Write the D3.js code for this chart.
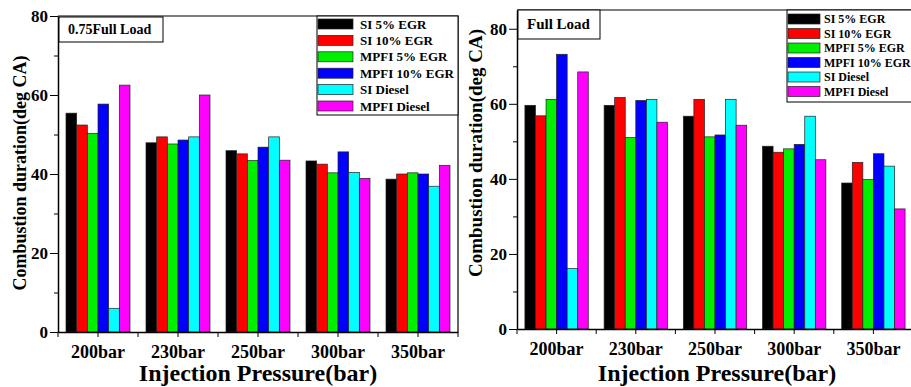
<!DOCTYPE html>
<html>
<head>
<meta charset="utf-8">
<script src="https://cdn.jsdelivr.net/npm/d3@7"></script>
<style>
  body { margin: 0; background: #fff; }
</style>
</head>
<body>
<svg id="chart" width="911" height="387"></svg>
<script>
// categories and series
const pressures = ['200bar', '230bar', '250bar', '300bar', '350bar'];
const seriesNames = ['SI 5% EGR', 'SI 10% EGR', 'MPFI 5% EGR', 'MPFI 10% EGR', 'SI Diesel', 'MPFI Diesel'];
const seriesColors = ['#000000', '#ff0000', '#00ee00', '#0000ff', '#00ffff', '#ff00ff'];

// 0.75 full load
const si5Part = [55.4, 47.9, 45.9, 43.3, 38.7];
const si10Part = [52.4, 49.4, 45.1, 42.5, 40.0];
const mpfi5Part = [50.3, 47.6, 43.4, 40.3, 40.3];
const mpfi10Part = [57.7, 48.6, 46.8, 45.6, 40.0];
const siDieselPart = [6.0, 49.4, 49.4, 40.4, 36.9];
const mpfiDieselPart = [62.5, 60.0, 43.5, 38.9, 42.2];

// full load
const si5Full = [59.6, 59.6, 56.7, 48.7, 38.9];
const si10Full = [56.8, 61.7, 61.2, 47.1, 44.4];
const mpfi5Full = [61.2, 51.0, 51.2, 48.0, 39.8];
const mpfi10Full = [73.2, 60.9, 51.7, 49.2, 46.7];
const siDieselFull = [16.1, 61.2, 61.2, 56.7, 43.4];
const mpfiDieselFull = [68.5, 55.1, 54.3, 45.1, 32.0];

const yTicks = [0, 20, 40, 60, 80];
const yMinor = [10, 30, 50, 70];

const serif = '"Liberation Serif", "Times New Roman", serif';
let svg = d3.select('#chart');

const styleText = function(sel, size) {
    sel.style('font-family', serif)
        .style('font-weight', 'bold')
        .style('font-size', size + 'px')
        .attr('fill', '#000');
};

const drawChart = function(cfg) {
    let series = cfg.series;
    let g = svg.append('g');

    let x = d3.scaleBand().domain(pressures).range([cfg.left, cfg.right]).paddingInner(0.2).paddingOuter(0.1);
    let xs = d3.scaleBand().domain(seriesNames).range([0, x.bandwidth()]);
    let y = d3.scaleLinear().domain([0, cfg.yMax]).range([cfg.bottom, cfg.top]);

    // bars
    seriesNames.forEach(function(name, si) {
        g.selectAll('.bar' + si)
            .data(series[si])
            .enter()
            .append('rect')
            .attr('x', function(d, i) {return x(pressures[i]) + xs(name)})
            .attr('y', function(d) {return y(d)})
            .attr('width', xs.bandwidth())
            .attr('height', function(d) {return y(0) - y(d)})
            .attr('fill', seriesColors[si])
            .attr('stroke', '#222')
            .attr('stroke-width', 0.7);
    });

    // frame
    g.append('path')
        .attr('d', 'M' + cfg.left + ',' + y(cfg.yMax) + 'H' + cfg.right + 'V' + cfg.bottom)
        .attr('fill', 'none').attr('stroke', '#000').attr('stroke-width', 1.2);

    // y axis
    let yAxis = g.append('g')
        .attr('transform', 'translate(' + cfg.left + ',0)')
        .call(d3.axisLeft(y).tickValues(yTicks).tickSize(8).tickPadding(2).tickSizeOuter(0));
    styleText(yAxis.selectAll('text'), cfg.tickFont);
    g.append('g')
        .attr('transform', 'translate(' + cfg.left + ',0)')
        .call(d3.axisLeft(y).tickValues(yMinor).tickSize(4).tickFormat('').tickSizeOuter(0))
        .select('.domain').remove();

    // x axis
    let xAxis = g.append('g')
        .attr('transform', 'translate(0,' + cfg.bottom + ')')
        .call(d3.axisBottom(x).tickSize(5).tickPadding(8).tickSizeOuter(0));
    styleText(xAxis.selectAll('text'), 18);
    let bounds = d3.range(pressures.length + 1).map(function(i) {return cfg.left + i * x.step()});
    g.selectAll('.xminor')
        .data(bounds)
        .enter()
        .append('line')
        .attr('x1', function(d) {return d}).attr('x2', function(d) {return d})
        .attr('y1', cfg.bottom).attr('y2', cfg.bottom + 5)
        .attr('stroke', '#000');
    g.selectAll('.domain').attr('stroke-width', 1.5);

    // axis titles
    g.append('text')
        .attr('x', cfg.left + 200)
        .attr('y', 381)
        .attr('text-anchor', 'middle')
        .text('Injection Pressure(bar)')
        .call(styleText, 24);
    g.append('text')
        .attr('transform', 'translate(' + cfg.yLabelX + ',' + cfg.yLabelY + ') rotate(-90)')
        .attr('text-anchor', 'middle')
        .text('Combustion duration(deg CA)')
        .call(styleText, cfg.yLabelFont);

    // title box
    let tb = cfg.titleBox;
    g.append('rect')
        .attr('x', tb[0]).attr('y', tb[1]).attr('width', tb[2]).attr('height', tb[3])
        .attr('fill', '#fff').attr('stroke', '#000').attr('stroke-width', 1);
    g.append('text')
        .attr('x', tb[0] + 9).attr('y', tb[1] + tb[3] / 2 + cfg.titleFont * 0.33)
        .text(cfg.title)
        .call(styleText, cfg.titleFont);

    // legend
    let lg = cfg.legend;
    g.append('rect')
        .attr('x', lg.x).attr('y', lg.y).attr('width', lg.w).attr('height', lg.h)
        .attr('fill', '#fff').attr('stroke', '#000').attr('stroke-width', 1);
    let rows = g.selectAll('.leg')
        .data(seriesNames)
        .enter()
        .append('g')
        .attr('transform', function(d, i) {return 'translate(0,' + (lg.first + i * lg.step) + ')'});
    rows.append('rect')
        .attr('x', lg.x + 1).attr('y', -lg.sh / 2)
        .attr('width', lg.sw).attr('height', lg.sh)
        .attr('fill', function(d, i) {return seriesColors[i]})
        .attr('stroke', '#222').attr('stroke-width', 0.7);
    rows.append('text')
        .attr('x', lg.tx).attr('y', lg.font * 0.35)
        .text(function(d) {return d})
        .call(styleText, lg.font);
};

drawChart({
    series: [si5Part, si10Part, mpfi5Part, mpfi10Part, siDieselPart, mpfiDieselPart],
    left: 58, right: 458, top: 16, bottom: 332, yMax: 80,
    tickFont: 17, yLabelX: 26, yLabelY: 173, yLabelFont: 18,
    title: '0.75Full Load', titleFont: 14, titleBox: [59, 17, 104, 25],
    legend: {x: 317, y: 16, w: 141, h: 99, first: 24, step: 16.4, sw: 35, sh: 10, tx: 360, font: 13}
});

drawChart({
    series: [si5Full, si10Full, mpfi5Full, mpfi10Full, siDieselFull, mpfiDieselFull],
    left: 517, right: 913, top: 10, bottom: 329, yMax: 85,
    tickFont: 17, yLabelX: 482, yLabelY: 153, yLabelFont: 19,
    title: 'Full Load', titleFont: 15, titleBox: [518, 10, 82, 29],
    legend: {x: 787, y: 10, w: 130, h: 92, first: 19, step: 14.5, sw: 32, sh: 10, tx: 824, font: 12}
});
</script>
</body>
</html>
